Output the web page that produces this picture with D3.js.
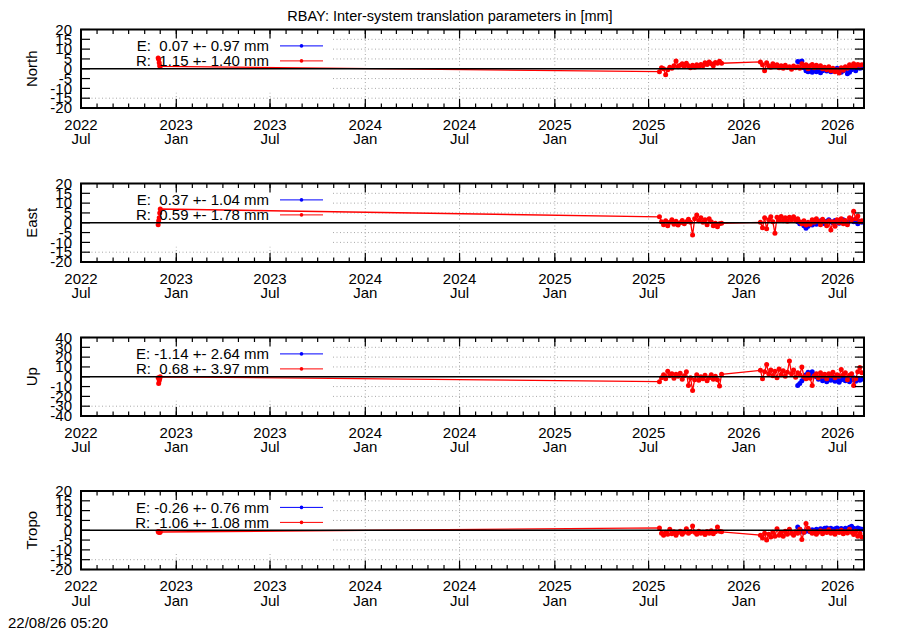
<!DOCTYPE html>
<html><head><meta charset="utf-8">
<script src="https://cdn.jsdelivr.net/npm/d3@7"></script>
<style>
body{margin:0;background:#fff}
svg{display:block}
text{font-family:"Liberation Sans",Arial,Helvetica,sans-serif;fill:#000}
</style>
</head><body>
<svg id="chart" width="900" height="630"></svg>
<script>
// ---------------- DATA ----------------
const chartTitle = "RBAY: Inter-system translation parameters in [mm]";
const timestamp = "22/08/26 05:20";
const panelNames = ["North", "East", "Up", "Tropo"];
const yLimits = [20, 20, 40, 20];
const yTickSteps = [5, 5, 10, 5];
const xTickDates = ["2022-07-01","2023-01-01","2023-07-01","2024-01-01","2024-07-01","2025-01-01","2025-07-01","2026-01-01","2026-07-01"];
const xTickYears = ["2022","2023","2023","2024","2024","2025","2025","2026","2026"];
const xTickMonths = ["Jul","Jan","Jul","Jan","Jul","Jan","Jul","Jan","Jul"];
const xDomain = ["2022-07-01", "2026-08-21"];

const legendE = ["E:  0.07 +- 0.97 mm", "E:  0.37 +- 1.04 mm", "E: -1.14 +- 2.64 mm", "E: -0.26 +- 0.76 mm"];
const legendR = ["R:  1.15 +- 1.40 mm", "R:  0.59 +- 1.78 mm", "R:  0.68 +- 3.97 mm", "R: -1.06 +- 1.08 mm"];

// sampling of the daily solutions
const early2022Dates = ["2022-11-27","2022-11-28","2022-11-29","2022-11-30","2022-12-01"];
const clusterAStart = "2025-07-22";
const clusterBStart = "2026-02-02";
const seriesEStart = "2026-04-15";
const stepDays = 4;

// North
const northR2022 = [5.5, 4.8, 3, 1.5, 1.2];
const northRA = [-1.5,0.5,0,-3,-0.5,0.8,0.2,1.5,4,1,1.8,2.5,1.2,2.8,1.5,0.5,1.8,0.8,2,1.2,2.2,1.5,3,2.2,3.5,2.5,1.5,3.2,2.8,3.8,2.8];
const northRB = [3.5,2,-1,3,1.5,0.8,2.5,1.2,2,0.5,1.5,0.2,1.8,0.6,1,-0.3,1.4,0.5,1,0.2,2.5,1,2,0,1.5,2.2,0.5,1.8,0.8,1.5,0,0.8,-0.5,1,-1,0.2,-1.5,-0.5,-2.2,0.5,-0.8,1,0.2,2,1.2,2.5,1.5,2.2,1.8,2];
const northE = [3.7,3.5,3.9,0.5,-1,-1.5,-0.8,-1.8,-0.5,-1.5,-0.8,-2,-1,-0.3,-1.2,-0.5,-1.5,-0.6,-1,0.2,-0.8,-1.8,-1,-0.2,-2.5,-1.8,-0.5,0.5,-1,0.8,0.2,0.5];

// East
const eastR2022 = [-1, 1, 2.5, 5, 7];
const eastRA = [3,0.5,-1,1,-1.5,0.2,1.5,-0.8,0.8,-1.2,0,1.2,-0.5,0.5,1.8,0.3,-6.3,2,4,1,2.5,0.2,1.5,-1,2,0.5,-1.5,-0.2,-2,-0.5,-0.3];
const eastRB = [0.2,-2.5,2.5,-3,1.5,3,0.5,-5.4,2.8,1.2,3.2,1,2.5,0.8,2.8,1.5,3,1.2,2,0.5,-0.5,1,-1.2,0.3,-0.8,1.5,0.2,2,0.8,-1,1.8,0.5,-1.5,1,-3.7,0.5,-1.8,1.5,0,2,-0.5,1.2,-1,2.5,1.5,5.8,2,3.5,0.5,1];
const eastE = [0.5,-0.5,0,-1.5,-2.8,-1.8,-0.5,-1.2,0.2,-0.8,0.5,1,0.2,-0.5,0.8,1.5,0.5,0,1.2,0.4,-0.3,0.8,1.5,0.6,-0.2,0.9,1.8,0.5,1,-0.5,0.8,0.3];

// Up
const upR2022 = [-1, -7, -4, -2, 0];
const upRA = [-5,-1,2,-2,5.5,1,3,-1.5,2.5,0.5,3.5,-2.5,1,5,-8.8,-1,-14,-3,2,-3.5,0,-2,1.5,-4,-1,2,-2.5,0.5,-3,-9.5,2.5];
const upRB = [6.5,-2,5,12.5,3,7,1,5.5,-1,8,2,6,0.5,4.5,16,3,7,-0.5,4,2,10,0,-2,2.5,-1.5,-9,1,3,-1,4,0.5,2.5,-2,3,1,4.5,-1,2,0.5,7.5,2,4,-3,1.5,3,-9,-2,5,9.5,4];
const upE = [-9,-7,-4,-1,2,4.5,3,5,2,0,-2.5,-1,-4,-2,-5,-1.5,-3.5,-0.5,-4.5,-2,-5.5,-3,-1,-4,-2,-5,-3,-1,-4.5,-2,-3.5,-2.5];

// Tropo
const tropoR2022 = [-0.6, -1, -0.8, -1.2, -0.9];
const tropoRA = [1.2,-1.5,-2.5,-1,-2,0.5,-1.8,-0.8,-2.5,-1.2,-0.5,-2,-1,0.8,-1.5,-0.8,2.2,-1,-2,-0.5,-1.5,-1,-2.2,-0.7,-1.5,-0.3,-1.8,-0.8,1.7,-0.5,-0.8];
const tropoRB = [-2.5,-4,-1.5,-5,-2,-3.5,-1,-3,0.8,-2.5,-1.2,-3,-0.5,-2,0.5,-1.5,-2.5,-0.8,-1.5,0.5,-4.7,-1,3.4,1,-0.5,-1.5,-0.8,-2,-1,-0.3,-1.8,-0.5,-1.2,0.2,-1.5,-0.8,-2,-0.5,-1.2,0,-1.8,-0.6,-1.4,0.5,-1,-2.2,-0.5,-3,-1.5,-3.5];
const tropoE = [1.7,0.5,-0.5,-1,-0.5,0,-0.8,0.2,-0.3,0.5,0,0.8,0.3,1,1.2,0.5,1,0.2,0.8,1.2,0.4,0.9,0.2,1,0.5,1.5,2,1,0.6,1.2,0.8,0.5];

const panelR2022 = [northR2022, eastR2022, upR2022, tropoR2022];
const panelRA = [northRA, eastRA, upRA, tropoRA];
const panelRB = [northRB, eastRB, upRB, tropoRB];
const panelE = [northE, eastE, upE, tropoE];

// ---------------- LAYOUT ----------------
const W = 900, H = 630;
const left = 81, right = 864;
const panelTops = [29.5, 183.5, 337.5, 491];
const panelH = 78.5;
const FONT = 15;

const parse = d3.utcParse("%Y-%m-%d");
const svg = d3.select("#chart");
svg.append("rect").attr("width", W).attr("height", H).attr("fill", "#fff");

const x = d3.scaleUtc().domain(xDomain.map(parse)).range([left, right]);

function seq(startStr, values) {
  const s = parse(startStr);
  return values.map((v, i) => ({ t: d3.utcDay.offset(s, i * stepDays), v }));
}

svg.append("text").attr("x", 450).attr("y", 20.5).attr("text-anchor", "middle")
  .style("font-size", "14.5px").text(chartTitle);

svg.append("text").attr("x", 8).attr("y", 628).style("font-size", FONT + "px").text(timestamp);

const majorTicks = xTickDates.map(parse);
const minorTicks = d3.utcMonth.range(x.domain()[0], x.domain()[1]);

panelNames.forEach((name, p) => {
  const top = panelTops[p], bot = top + panelH;
  const lim = yLimits[p];
  const y = d3.scaleLinear().domain([-lim, lim]).range([bot, top]);
  const yTicks = d3.range(-lim, lim + 0.001, yTickSteps[p]);
  const g = svg.append("g");

  // grid
  const grid = g.append("g").attr("stroke", "#a8a8a8").attr("stroke-width", 1).attr("stroke-dasharray", "1,2.5");
  grid.selectAll("line.gy").data(yTicks.filter(v => v !== 0 && Math.abs(v) !== lim)).join("line")
    .attr("x1", left).attr("x2", right).attr("y1", d => y(d)).attr("y2", d => y(d));
  grid.selectAll("line.gx").data(majorTicks.slice(1)).join("line")
    .attr("x1", d => x(d)).attr("x2", d => x(d)).attr("y1", top).attr("y2", bot);

  // legend background (white)
  g.append("rect").attr("x", left).attr("y", top).attr("width", 251).attr("height", 63).attr("fill", "#fff");

  // data
  const rData = [
    ...early2022Dates.map((d, i) => ({ t: parse(d), v: panelR2022[p][i] })),
    ...seq(clusterAStart, panelRA[p]),
    ...seq(clusterBStart, panelRB[p])
  ];
  const eData = seq(seriesEStart, panelE[p]);
  const line = d3.line().x(d => x(d.t)).y(d => y(d.v));

  [[eData, "#0000ff"], [rData, "#ff0000"]].forEach(([data, col]) => {
    g.append("path").datum(data).attr("d", line).attr("fill", "none").attr("stroke", col).attr("stroke-width", 1.3);
    g.append("g").selectAll("circle").data(data).join("circle")
      .attr("cx", d => x(d.t)).attr("cy", d => y(d.v)).attr("r", 2.5).attr("fill", col);
  });

  // zero line
  g.append("line").attr("x1", left).attr("x2", right).attr("y1", y(0)).attr("y2", y(0))
    .attr("stroke", "#000").attr("stroke-width", 1.5);

  // ticks
  const tk = g.append("g").attr("stroke", "#000").attr("stroke-width", 1.2);
  tk.selectAll("line.mb").data(minorTicks).join("line")
    .attr("x1", d => x(d)).attr("x2", d => x(d)).attr("y1", bot).attr("y2", bot - 4.5);
  tk.selectAll("line.mt").data(minorTicks).join("line")
    .attr("x1", d => x(d)).attr("x2", d => x(d)).attr("y1", top).attr("y2", top + 4.5);
  tk.selectAll("line.Mb").data(majorTicks).join("line")
    .attr("x1", d => x(d)).attr("x2", d => x(d)).attr("y1", bot).attr("y2", bot - 9);
  tk.selectAll("line.Mt").data(majorTicks).join("line")
    .attr("x1", d => x(d)).attr("x2", d => x(d)).attr("y1", top).attr("y2", top + 9);
  tk.selectAll("line.yl").data(yTicks).join("line")
    .attr("x1", left).attr("x2", left + 9).attr("y1", d => y(d)).attr("y2", d => y(d));
  tk.selectAll("line.yr").data(yTicks).join("line")
    .attr("x1", right).attr("x2", right - 9).attr("y1", d => y(d)).attr("y2", d => y(d));

  // border
  g.append("rect").attr("x", left).attr("y", top).attr("width", right - left).attr("height", panelH)
    .attr("fill", "none").attr("stroke", "#000").attr("stroke-width", 2);

  // y tick labels
  g.append("g").selectAll("text").data(yTicks).join("text")
    .attr("x", 72).attr("y", d => y(d) + 5.3).attr("text-anchor", "end")
    .style("font-size", FONT + "px").text(d => d);

  // x tick labels
  const xl = g.append("g").selectAll("text").data(majorTicks).join("text")
    .attr("text-anchor", "middle").style("font-size", FONT + "px");
  xl.append("tspan").attr("x", d => x(d)).attr("y", bot + 21.5).text((d, i) => xTickYears[i]);
  xl.append("tspan").attr("x", d => x(d)).attr("y", bot + 36).text((d, i) => xTickMonths[i]);

  // y axis name
  g.append("text").attr("transform", `translate(37,${(top + bot) / 2}) rotate(-90)`)
    .attr("text-anchor", "middle").style("font-size", FONT + "px").text(name);

  // legend
  const rows = [[legendE[p], "#0000ff"], [legendR[p], "#ff0000"]];
  rows.forEach(([txt, col], k) => {
    const cy = top + 16.4 + k * 15;
    g.append("text").attr("x", 269).attr("y", cy + 5.3).attr("text-anchor", "end")
      .style("font-size", FONT + "px").style("white-space", "pre").attr("xml:space", "preserve").text(txt);
    g.append("line").attr("x1", 280).attr("x2", 323).attr("y1", cy).attr("y2", cy)
      .attr("stroke", col).attr("stroke-width", 1);
    g.append("circle").attr("cx", 301.5).attr("cy", cy).attr("r", 1.8).attr("fill", col);
  });
});
</script>
</body></html>
